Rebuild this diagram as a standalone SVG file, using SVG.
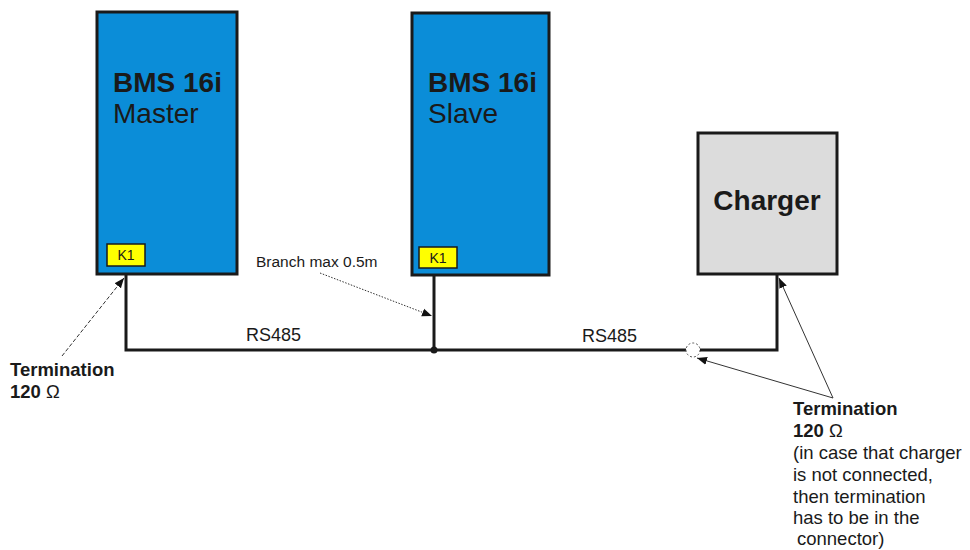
<svg xmlns="http://www.w3.org/2000/svg" width="970" height="550" viewBox="0 0 970 550">
<style>
  text { font-family: "Liberation Sans", Arial, sans-serif; fill: #1a1a1a; }
  .box { stroke: #1a1a1a; stroke-width: 3; }
  .bms { fill: #0b8dd8; }
  .chg { fill: #dcdcdc; }
  .k1 { fill: #ffff00; stroke: #1a1a1a; stroke-width: 1.5; }
  .title { font-size: 28px; font-weight: bold; }
  .sub { font-size: 28px; }
  .k1t { font-size: 14px; }
  .wire { fill: none; stroke: #1a1a1a; stroke-width: 3; }
  .lbl { font-size: 18px; }
  .note { font-size: 18.5px; }
  .bold { font-weight: bold; }
  .lead { fill: none; stroke: #333; stroke-width: 1; }
</style>
<defs>
  <marker id="ah" viewBox="0 0 10 10" refX="10" refY="5" markerWidth="10" markerHeight="10" markerUnits="userSpaceOnUse" orient="auto">
    <path d="M0,1 L10,5 L0,9 Z" fill="#111"/>
  </marker>
</defs>

<g id="master">
  <rect class="box bms" x="97" y="12" width="140" height="262"/>
  <text class="title" x="113" y="92">BMS 16i</text>
  <text class="sub" x="113" y="123">Master</text>
  <rect class="k1" x="107" y="244" width="38" height="22"/>
  <text class="k1t" x="126" y="260" text-anchor="middle">K1</text>
</g>

<g id="slave">
  <rect class="box bms" x="412" y="13" width="137" height="262"/>
  <text class="title" x="428" y="92">BMS 16i</text>
  <text class="sub" x="428" y="123">Slave</text>
  <rect class="k1" x="419" y="247" width="38" height="21"/>
  <text class="k1t" x="438" y="263" text-anchor="middle">K1</text>
</g>

<g id="charger">
  <rect class="box chg" x="698" y="133" width="139" height="141"/>
  <text class="title" x="767" y="210" text-anchor="middle">Charger</text>
</g>

<g id="connectors">
  <path class="wire" d="M126,275 V350 H686"/>
  <path class="wire" d="M434,276 V350"/>
  <circle cx="434" cy="350" r="3.5" fill="#1a1a1a"/>
  <circle cx="693" cy="350" r="7" fill="#fff" stroke="#555" stroke-width="1" stroke-dasharray="2,2"/>
  <path class="wire" d="M700,350 H777 V275"/>
  <text class="lbl" x="246" y="341">RS485</text>
  <text class="lbl" x="582" y="342">RS485</text>

  <line class="lead" x1="320" y1="273" x2="432" y2="316" stroke-dasharray="1.5,1.5" marker-end="url(#ah)"/>
  <line class="lead" x1="62" y1="356" x2="124" y2="278" stroke-dasharray="4,2" marker-end="url(#ah)"/>
  <line class="lead" x1="833" y1="398" x2="779" y2="278" marker-end="url(#ah)"/>
  <line class="lead" x1="833" y1="398" x2="697" y2="358" marker-end="url(#ah)"/>
</g>

<g id="labels">
  <text x="256" y="267" font-size="15.5">Branch max 0.5m</text>
  <text class="note bold" x="10" y="376">Termination</text>
  <text class="note" x="10" y="398"><tspan class="bold">120 </tspan>Ω</text>
  <text class="note bold" x="793" y="415">Termination</text>
  <text class="note" x="793" y="437"><tspan class="bold">120 </tspan>Ω</text>
  <text class="note" x="793" y="459">(in case that charger</text>
  <text class="note" x="793" y="481">is not connected,</text>
  <text class="note" x="793" y="503">then termination</text>
  <text class="note" x="793" y="524">has to be in the</text>
  <text class="note" x="797" y="545">connector)</text>
</g>
</svg>
